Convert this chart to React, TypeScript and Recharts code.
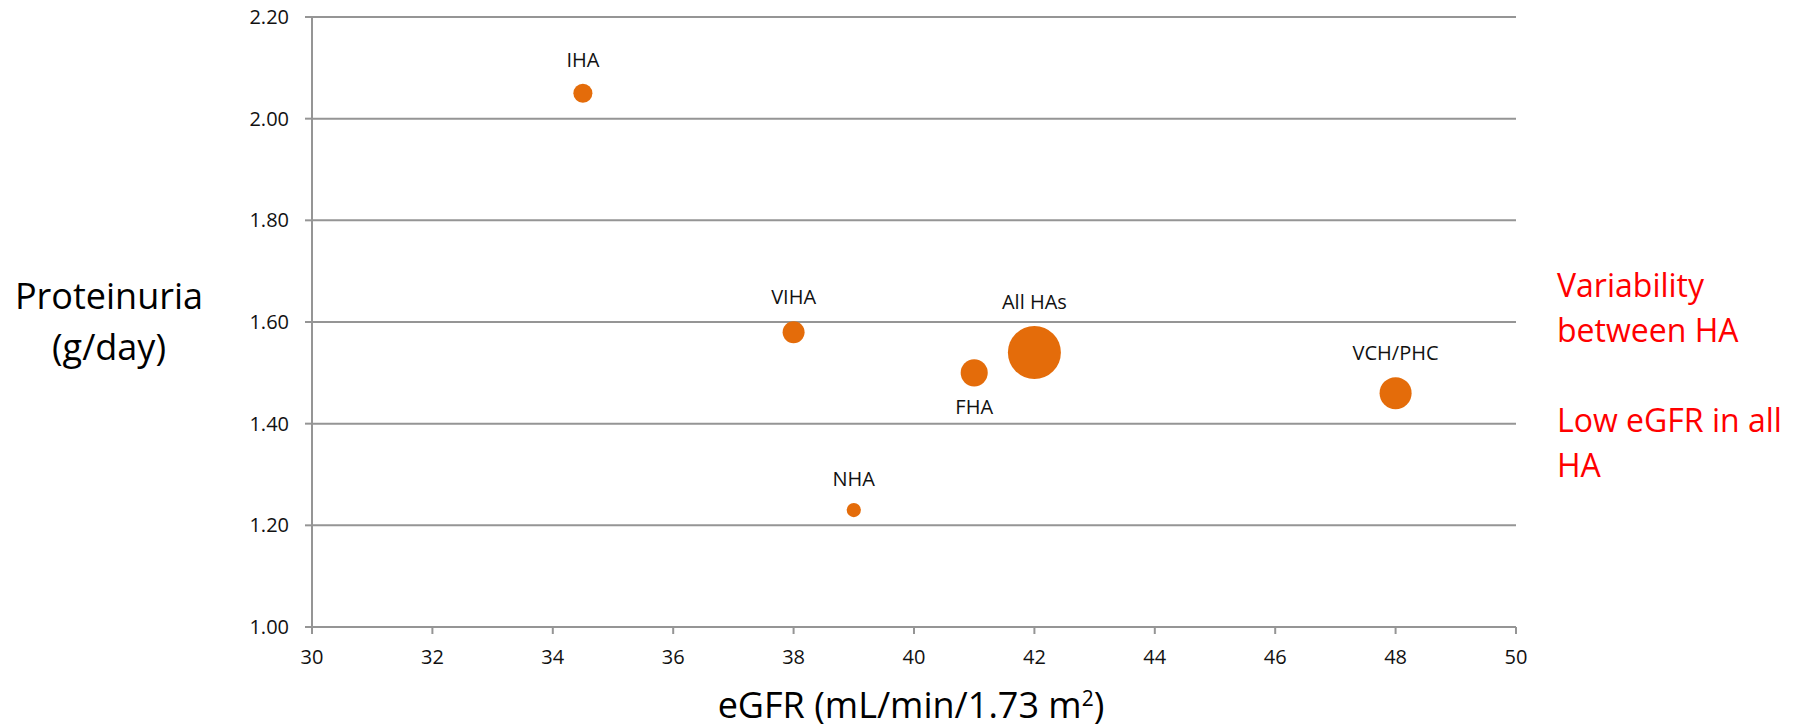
import React from 'react';
import { ScatterChart, Scatter, XAxis, YAxis, ZAxis, CartesianGrid } from 'recharts';

const regions = ['IHA', 'VIHA', 'FHA', 'All HAs', 'NHA', 'VCH/PHC'];
const egfr = [34.5, 38, 41, 42, 39, 48];
const proteinuria = [2.05, 1.58, 1.5, 1.54, 1.23, 1.46];
const bubbleSize = [360, 480, 730, 2790, 200, 1020];
const labelBelow = ['FHA'];

const xTicks = [30, 32, 34, 36, 38, 40, 42, 44, 46, 48, 50];
const yTicks = [1.0, 1.2, 1.4, 1.6, 1.8, 2.0, 2.2];

const notes = ['Variability', 'between HA', '\u00a0', 'Low eGFR in all', 'HA'];

const data = regions.map((name, i) => ({
  name,
  x: egfr[i],
  y: proteinuria[i],
  z: bubbleSize[i],
}));

const FONT = '"Open Sans", sans-serif';
const ORANGE = '#E46C0A';
const GRID = '#959595';

const Bubble = (props: any) => {
  const { cx, cy, payload } = props;
  let r = props.width ? props.width / 2 : Math.sqrt((props.size || 0) / Math.PI);
  const below = labelBelow.includes(payload.name);
  const ty = below ? cy + r + 21 + 7 : cy - r - 24 + 7;
  return (
    <g>
      <circle cx={cx} cy={cy} r={r} fill={ORANGE} />
      <text x={cx} y={ty} textAnchor="middle" fontSize={20} fontFamily={FONT} fill="#111">
        {payload.name}
      </text>
    </g>
  );
};

const App: React.FC = () => {
  return (
    <div style={{ position: 'absolute', left: 0, top: 0, width: 1799, height: 727, background: '#fff' }}>
      <ScatterChart width={1799} height={727} margin={{ top: 17, right: 283, bottom: 70, left: 0 }}>
        <CartesianGrid vertical={false} stroke={GRID} strokeWidth={2} />
        <XAxis
          type="number"
          dataKey="x"
          domain={[30, 50]}
          ticks={xTicks}
          interval={0}
          tickSize={7}
          tickMargin={16}
          stroke={GRID}
          strokeWidth={2}
          tick={{ fill: '#111', fontSize: 20, fontFamily: FONT }}
        />
        <YAxis
          type="number"
          dataKey="y"
          domain={[1, 2.2]}
          ticks={yTicks}
          interval={0}
          width={312}
          tickSize={7}
          tickMargin={16}
          stroke={GRID}
          strokeWidth={2}
          tickFormatter={(v: number) => v.toFixed(2)}
          tick={{ fill: '#111', fontSize: 20, fontFamily: FONT }}
        />
        <ZAxis type="number" dataKey="z" domain={[0, 3000]} range={[0, 2372]} />
        <Scatter data={data} fill={ORANGE} shape={<Bubble />} isAnimationActive={false} />
      </ScatterChart>

      <div
        style={{
          position: 'absolute',
          left: 0,
          top: 270,
          width: 218,
          textAlign: 'center',
          fontFamily: FONT,
          fontSize: 36,
          lineHeight: '51px',
          color: '#000',
        }}
      >
        Proteinuria
        <br />
        (g/day)
      </div>

      <div
        style={{
          position: 'absolute',
          left: 611,
          top: 680,
          width: 600,
          textAlign: 'center',
          fontFamily: FONT,
          fontSize: 36,
          lineHeight: '50px',
          color: '#000',
          whiteSpace: 'nowrap',
        }}
      >
        eGFR (mL/min/1.73 m
        <span style={{ fontSize: 21, position: 'relative', top: -12 }}>2</span>)
      </div>

      <div
        style={{
          position: 'absolute',
          left: 1557,
          top: 262,
          fontFamily: FONT,
          fontSize: 32,
          lineHeight: '45px',
          color: '#FF0000',
          whiteSpace: 'nowrap',
        }}
      >
        {notes.map((line, i) => (
          <div key={i}>{line}</div>
        ))}
      </div>
    </div>
  );
};

export default App;
